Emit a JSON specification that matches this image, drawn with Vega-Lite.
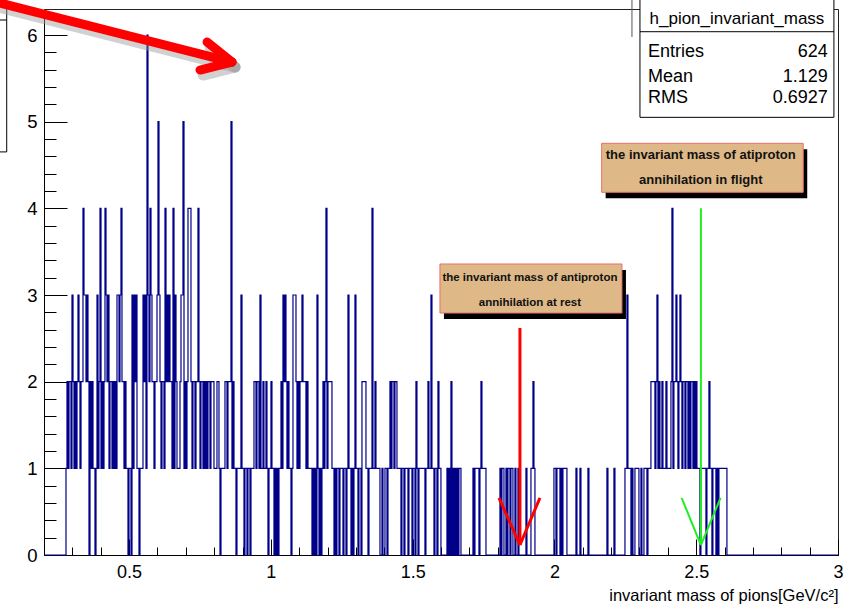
{
  "$schema": "https://vega.github.io/schema/vega-lite/v6.json",
  "width": 794,
  "height": 546,
  "autosize": "none",
  "padding": {"left": 44, "top": 9, "right": 17, "bottom": 51},
  "background": "white",
  "config": {
    "view": {"stroke": "#222222", "strokeWidth": 1},
    "font": "Liberation Sans, Arial, sans-serif"
  },
  "resolve": {"axis": {"x": "independent", "y": "independent"}},
  "layer": [
    {
      "data": {"values": [
        {"m":0.2,"n":0},
        {"m":0.2776,"n":1},{"m":0.2811,"n":2},{"m":0.2846,"n":1},{"m":0.2882,"n":2},{"m":0.2952,"n":1},{"m":0.2987,"n":3},{"m":0.3023,"n":2},{"m":0.3058,"n":1},{"m":0.3093,"n":2},{"m":0.3128,"n":1},{"m":0.3164,"n":2},{"m":0.3199,"n":3},{"m":0.3234,"n":2},{"m":0.3269,"n":1},{"m":0.3305,"n":2},{"m":0.3375,"n":4},{"m":0.3410,"n":3},{"m":0.3481,"n":2},{"m":0.3516,"n":3},{"m":0.3551,"n":2},{"m":0.3587,"n":0},{"m":0.3622,"n":2},{"m":0.3657,"n":1},{"m":0.3692,"n":2},{"m":0.3728,"n":1},{"m":0.3798,"n":0},{"m":0.3834,"n":1},{"m":0.3869,"n":3},{"m":0.3904,"n":1},{"m":0.3939,"n":2},{"m":0.3975,"n":4},{"m":0.4010,"n":1},{"m":0.4045,"n":2},{"m":0.4080,"n":1},{"m":0.4116,"n":2},{"m":0.4151,"n":4},{"m":0.4186,"n":3},{"m":0.4221,"n":2},{"m":0.4257,"n":3},{"m":0.4292,"n":1},{"m":0.4327,"n":2},{"m":0.4398,"n":1},{"m":0.4433,"n":2},{"m":0.4468,"n":1},{"m":0.4504,"n":2},{"m":0.4539,"n":1},{"m":0.4574,"n":3},{"m":0.4645,"n":2},{"m":0.4680,"n":3},{"m":0.4715,"n":4},{"m":0.4750,"n":2},{"m":0.4821,"n":1},{"m":0.4856,"n":2},{"m":0.4891,"n":1},{"m":0.4962,"n":0},{"m":0.4997,"n":1},{"m":0.5068,"n":0},{"m":0.5103,"n":3},{"m":0.5138,"n":1},{"m":0.5174,"n":3},{"m":0.5209,"n":2},{"m":0.5244,"n":3},{"m":0.5279,"n":1},{"m":0.5350,"n":0},{"m":0.5385,"n":1},{"m":0.5491,"n":3},{"m":0.5526,"n":2},{"m":0.5561,"n":3},{"m":0.5597,"n":1},{"m":0.5632,"n":6},{"m":0.5667,"n":3},{"m":0.5702,"n":2},{"m":0.5738,"n":4},{"m":0.5773,"n":3},{"m":0.5808,"n":2},{"m":0.5879,"n":1},{"m":0.5914,"n":2},{"m":0.5985,"n":3},{"m":0.6020,"n":5},{"m":0.6055,"n":3},{"m":0.6090,"n":2},{"m":0.6126,"n":1},{"m":0.6161,"n":2},{"m":0.6231,"n":1},{"m":0.6267,"n":4},{"m":0.6302,"n":2},{"m":0.6337,"n":3},{"m":0.6372,"n":2},{"m":0.6408,"n":3},{"m":0.6443,"n":2},
        {"m":0.6513,"n":1},{"m":0.6549,"n":4},{"m":0.6584,"n":1},{"m":0.6619,"n":3},{"m":0.6655,"n":2},{"m":0.6690,"n":1},{"m":0.6796,"n":2},{"m":0.6831,"n":3},{"m":0.6901,"n":5},{"m":0.6937,"n":1},{"m":0.6972,"n":2},{"m":0.7007,"n":1},{"m":0.7042,"n":2},{"m":0.7078,"n":4},{"m":0.7183,"n":2},{"m":0.7219,"n":1},{"m":0.7254,"n":2},{"m":0.7324,"n":1},{"m":0.7360,"n":2},{"m":0.7430,"n":4},{"m":0.7465,"n":2},{"m":0.7501,"n":1},{"m":0.7536,"n":2},{"m":0.7606,"n":1},{"m":0.7642,"n":2},{"m":0.7677,"n":1},{"m":0.7712,"n":2},{"m":0.7747,"n":1},{"m":0.7783,"n":2},{"m":0.7853,"n":1},{"m":0.7888,"n":2},{"m":0.7994,"n":1},{"m":0.8100,"n":2},{"m":0.8171,"n":1},{"m":0.8206,"n":0},{"m":0.8241,"n":1},{"m":0.8382,"n":2},{"m":0.8453,"n":1},{"m":0.8488,"n":2},{"m":0.8594,"n":5},{"m":0.8629,"n":1},{"m":0.8664,"n":2},{"m":0.8700,"n":1},{"m":0.8770,"n":0},{"m":0.8805,"n":1},{"m":0.8946,"n":3},{"m":0.8982,"n":1},{"m":0.9052,"n":0},{"m":0.9087,"n":1},{"m":0.9158,"n":0},{"m":0.9193,"n":1},{"m":0.9264,"n":0},{"m":0.9299,"n":1},{"m":0.9405,"n":2},{"m":0.9475,"n":1},{"m":0.9511,"n":2},{"m":0.9581,"n":1},{"m":0.9616,"n":3},{"m":0.9652,"n":1},{"m":0.9722,"n":2},{"m":0.9757,"n":1},{"m":0.9828,"n":2},{"m":0.9863,"n":1},{"m":0.9898,"n":0},{"m":0.9934,"n":1},{"m":1.0004,"n":2},{"m":1.0039,"n":1},{"m":1.0110,"n":0},{"m":1.0145,"n":1},{"m":1.0180,"n":0},{"m":1.0216,"n":1},{"m":1.0251,"n":0},{"m":1.0286,"n":1},{"m":1.0357,"n":2},{"m":1.0392,"n":1},{"m":1.0427,"n":3},{"m":1.0463,"n":2},{"m":1.0498,"n":3},
        {"m":1.0533,"n":2},{"m":1.0568,"n":1},{"m":1.0604,"n":2},{"m":1.0639,"n":1},{"m":1.0710,"n":0},{"m":1.0745,"n":1},{"m":1.0780,"n":3},{"m":1.0886,"n":2},{"m":1.0921,"n":1},{"m":1.0956,"n":2},{"m":1.0992,"n":1},{"m":1.1027,"n":2},{"m":1.1097,"n":3},{"m":1.1133,"n":2},{"m":1.1238,"n":1},{"m":1.1273,"n":2},{"m":1.1309,"n":1},{"m":1.1450,"n":0},{"m":1.1485,"n":1},{"m":1.1520,"n":0},{"m":1.1556,"n":1},{"m":1.1591,"n":0},{"m":1.1626,"n":3},{"m":1.1661,"n":1},{"m":1.1697,"n":0},{"m":1.1732,"n":1},{"m":1.1767,"n":0},{"m":1.1802,"n":1},{"m":1.1838,"n":2},{"m":1.1873,"n":1},{"m":1.1908,"n":2},{"m":1.1943,"n":4},{"m":1.1979,"n":1},{"m":1.2014,"n":2},{"m":1.2155,"n":1},{"m":1.2226,"n":0},{"m":1.2261,"n":1},{"m":1.2296,"n":0},{"m":1.2331,"n":1},{"m":1.2402,"n":0},{"m":1.2437,"n":1},{"m":1.2543,"n":0},{"m":1.2578,"n":1},{"m":1.2649,"n":0},{"m":1.2684,"n":1},{"m":1.2719,"n":3},{"m":1.2755,"n":1},{"m":1.2825,"n":0},{"m":1.2860,"n":1},{"m":1.2896,"n":0},{"m":1.2931,"n":1},{"m":1.2966,"n":3},{"m":1.3001,"n":1},{"m":1.3072,"n":0},{"m":1.3107,"n":1},{"m":1.3178,"n":0},{"m":1.3213,"n":2},{"m":1.3354,"n":1},{"m":1.3425,"n":0},{"m":1.3460,"n":1},{"m":1.3566,"n":4},{"m":1.3601,"n":1},{"m":1.3671,"n":2},{"m":1.3707,"n":1},{"m":1.3848,"n":0},{"m":1.3918,"n":1},{"m":1.3954,"n":0},{"m":1.4024,"n":1},{"m":1.4095,"n":0},{"m":1.4130,"n":1},{"m":1.4200,"n":2},{"m":1.4236,"n":1},{"m":1.4271,"n":2},{"m":1.4341,"n":1},{"m":1.4377,"n":2},{"m":1.4447,"n":1},
        {"m":1.4588,"n":0},{"m":1.4623,"n":1},{"m":1.4694,"n":0},{"m":1.4729,"n":1},{"m":1.4835,"n":0},{"m":1.4870,"n":1},{"m":1.4976,"n":0},{"m":1.5011,"n":1},{"m":1.5082,"n":0},{"m":1.5117,"n":2},{"m":1.5152,"n":1},{"m":1.5188,"n":0},{"m":1.5223,"n":1},{"m":1.5434,"n":0},{"m":1.5469,"n":1},{"m":1.5540,"n":2},{"m":1.5575,"n":1},{"m":1.5646,"n":3},{"m":1.5681,"n":1},{"m":1.5752,"n":0},{"m":1.5787,"n":1},{"m":1.5857,"n":0},{"m":1.5893,"n":2},{"m":1.5928,"n":1},{"m":1.5998,"n":0},{"m":1.6210,"n":1},{"m":1.6245,"n":0},{"m":1.6280,"n":1},{"m":1.6316,"n":0},{"m":1.6351,"n":2},{"m":1.6386,"n":0},{"m":1.6421,"n":1},{"m":1.6457,"n":0},{"m":1.6492,"n":1},{"m":1.6527,"n":0},{"m":1.6562,"n":1},{"m":1.6598,"n":0},{"m":1.6633,"n":1},{"m":1.6704,"n":0},{"m":1.7127,"n":1},{"m":1.7162,"n":0},{"m":1.7197,"n":1},{"m":1.7339,"n":0},{"m":1.7374,"n":1},{"m":1.7409,"n":2},{"m":1.7444,"n":1},{"m":1.7586,"n":0},{"m":1.8079,"n":1},{"m":1.8114,"n":0},{"m":1.8149,"n":1},{"m":1.8220,"n":0},{"m":1.8291,"n":1},{"m":1.8326,"n":0},{"m":1.8361,"n":1},{"m":1.8432,"n":0},{"m":1.8467,"n":1},{"m":1.8537,"n":0},{"m":1.8608,"n":1},
        {"m":1.8643,"n":0},{"m":1.8714,"n":1},{"m":1.8749,"n":0},{"m":1.8996,"n":1},{"m":1.9031,"n":0},{"m":1.9172,"n":1},{"m":1.9243,"n":2},{"m":1.9278,"n":1},{"m":1.9313,"n":0},{"m":1.9983,"n":1},{"m":2.0054,"n":0},{"m":2.0089,"n":1},{"m":2.0195,"n":0},{"m":2.0230,"n":1},{"m":2.0265,"n":0},{"m":2.0300,"n":1},{"m":2.0441,"n":0},{"m":2.0759,"n":1},{"m":2.0794,"n":0},{"m":2.0900,"n":1},{"m":2.0935,"n":0},{"m":2.1182,"n":1},{"m":2.1217,"n":0},{"m":2.1852,"n":1},{"m":2.1887,"n":0},{"m":2.2099,"n":1},{"m":2.2134,"n":0},{"m":2.2487,"n":1},{"m":2.2557,"n":3},{"m":2.2592,"n":1},
        {"m":2.2698,"n":0},{"m":2.2733,"n":1},{"m":2.2769,"n":0},{"m":2.2839,"n":1},{"m":2.2980,"n":0},{"m":2.3051,"n":1},{"m":2.3086,"n":0},{"m":2.3157,"n":1},{"m":2.3262,"n":0},{"m":2.3298,"n":1},{"m":2.3403,"n":2},{"m":2.3544,"n":1},{"m":2.3580,"n":2},{"m":2.3615,"n":3},{"m":2.3650,"n":1},{"m":2.3686,"n":2},{"m":2.3721,"n":1},{"m":2.3791,"n":2},{"m":2.3827,"n":1},{"m":2.3932,"n":2},{"m":2.3968,"n":1},{"m":2.4109,"n":2},{"m":2.4144,"n":4},{"m":2.4179,"n":1},{"m":2.4214,"n":2},{"m":2.4285,"n":3},{"m":2.4320,"n":2},{"m":2.4355,"n":1},{"m":2.4391,"n":2},{"m":2.4426,"n":3},{"m":2.4461,"n":2},{"m":2.4496,"n":1},{"m":2.4532,"n":2},{"m":2.4602,"n":1},{"m":2.4638,"n":2},{"m":2.4708,"n":1},{"m":2.4743,"n":2},{"m":2.4779,"n":1},{"m":2.4814,"n":2},{"m":2.4884,"n":1},{"m":2.4920,"n":2},{"m":2.4955,"n":1},{"m":2.4990,"n":2},{"m":2.5025,"n":1},{"m":2.5131,"n":0},{"m":2.5166,"n":1},{"m":2.5343,"n":0},{"m":2.5378,"n":1},{"m":2.5448,"n":2},{"m":2.5484,"n":1},{"m":2.5554,"n":0},{"m":2.5589,"n":1},{"m":2.5695,"n":0},{"m":2.5730,"n":1},{"m":2.5766,"n":0},{"m":2.5801,"n":1},{"m":2.6083,"n":0},{"m":3.0,"n":0}
      ]},
      "mark": {"type": "line", "interpolate": "step-after", "color": "#000088", "strokeWidth": 1.2},
      "encoding": {
        "x": {
          "field": "m", "type": "quantitative",
          "scale": {"domain": [0.2, 3.0], "nice": false, "zero": false},
          "axis": {
            "orient": "bottom",
            "title": "invariant mass of pions[GeV/c²]",
            "values": [0.2,0.3,0.4,0.5,0.6,0.7,0.8,0.9,1.0,1.1,1.2,1.3,1.4,1.5,1.6,1.7,1.8,1.9,2.0,2.1,2.2,2.3,2.4,2.5,2.6,2.7,2.8,2.9,3.0],
            "labelExpr": "abs(datum.value*2-round(datum.value*2))<0.001 ? format(datum.value,'~g') : ''",
            "tickSize": -16,
            "tickDash": {"condition": {"test": "abs(datum.value*2-round(datum.value*2))<0.001", "value": []}, "value": [8, 40]},
            "tickColor": "black", "domainColor": "black", "grid": false,
            "labelFontSize": 18, "labelColor": "black", "labelPadding": 24,
            "labelOverlap": false, "labelFlush": false, "labelBound": false,
            "titleFontSize": 16.5, "titleFontWeight": "normal", "titleColor": "black",
            "titleAnchor": "end", "titleAlign": "right", "titleBaseline": "alphabetic",
            "titleX": 794, "titleY": 45
          }
        },
        "y": {
          "field": "n", "type": "quantitative",
          "scale": {"domain": [0, 6.3], "nice": false, "zero": false},
          "axis": {
            "orient": "left",
            "title": null,
            "values": [0,0.2,0.4,0.6,0.8,1,1.2,1.4,1.6,1.8,2,2.2,2.4,2.6,2.8,3,3.2,3.4,3.6,3.8,4,4.2,4.4,4.6,4.8,5,5.2,5.4,5.6,5.8,6,6.2],
            "labelExpr": "abs(datum.value-round(datum.value))<0.001 ? format(datum.value,'d') : ''",
            "tickSize": -23,
            "tickDash": {"condition": {"test": "abs(datum.value-round(datum.value))<0.001", "value": []}, "value": [12, 40]},
            "tickColor": "black", "domainColor": "black", "grid": false,
            "labelFontSize": 18.5, "labelColor": "black", "labelPadding": 30,
            "labelOverlap": false, "labelFlush": false, "labelBound": false
          }
        }
      }
    },
    {
      "data": {"values": [
        {"x":-0.2,"x2":0.0685,"y":4.651,"y2":6.6}
      ]},
      "mark": {"type": "rect", "fill": "white", "stroke": "black", "strokeWidth": 1},
      "encoding": {
        "x": {"field": "x", "type": "quantitative", "scale": {"domain": [0.2, 3.0], "nice": false, "zero": false}, "axis": null},
        "x2": {"field": "x2"},
        "y": {"field": "y", "type": "quantitative", "scale": {"domain": [0, 6.3], "nice": false, "zero": false}, "axis": null},
        "y2": {"field": "y2"}
      }
    },
    {
      "data": {"values": [
        {"x":-0.2,"x2":0.0685,"y":6.173}
      ]},
      "mark": {"type": "rule", "color": "black", "strokeWidth": 1},
      "encoding": {
        "x": {"field": "x", "type": "quantitative", "scale": {"domain": [0.2, 3.0], "nice": false, "zero": false}, "axis": null},
        "x2": {"field": "x2"},
        "y": {"field": "y", "type": "quantitative", "scale": {"domain": [0, 6.3], "nice": false, "zero": false}, "axis": null}
      }
    },
    {
      "data": {"values": [
        {"x":0.0555,"y":6.311,"x2":0.8736,"y2":5.630},
        {"x":0.7856,"y":5.861,"x2":0.8736,"y2":5.630},
        {"x":0.7606,"y":5.538,"x2":0.8736,"y2":5.630}
      ]},
      "mark": {"type": "rule", "color": "#999999", "opacity": 0.45, "strokeWidth": 11, "strokeCap": "round"},
      "encoding": {
        "x": {"field": "x", "type": "quantitative", "scale": {"domain": [0.2, 3.0], "nice": false, "zero": false}, "axis": null},
        "x2": {"field": "x2"},
        "y": {"field": "y", "type": "quantitative", "scale": {"domain": [0, 6.3], "nice": false, "zero": false}, "axis": null},
        "y2": {"field": "y2"}
      }
    },
    {
      "data": {"values": [
        {"x":0.0449,"y":6.369,"x2":0.863,"y2":5.688},
        {"x":0.775,"y":5.919,"x2":0.863,"y2":5.688},
        {"x":0.750,"y":5.596,"x2":0.863,"y2":5.688}
      ]},
      "mark": {"type": "rule", "color": "#ff0000", "strokeWidth": 9, "strokeCap": "round"},
      "encoding": {
        "x": {"field": "x", "type": "quantitative", "scale": {"domain": [0.2, 3.0], "nice": false, "zero": false}, "axis": null},
        "x2": {"field": "x2"},
        "y": {"field": "y", "type": "quantitative", "scale": {"domain": [0, 6.3], "nice": false, "zero": false}, "axis": null},
        "y2": {"field": "y2"}
      }
    },
    {
      "data": {"values": [
        {"x":1.8784,"y":2.62,"x2":1.8784,"y2":0.115},
        {"x":1.8044,"y":0.66,"x2":1.8784,"y2":0.115},
        {"x":1.949,"y":0.66,"x2":1.8784,"y2":0.115}
      ]},
      "mark": {"type": "rule", "color": "#ff0000", "strokeWidth": 3},
      "encoding": {
        "x": {"field": "x", "type": "quantitative", "scale": {"domain": [0.2, 3.0], "nice": false, "zero": false}, "axis": null},
        "x2": {"field": "x2"},
        "y": {"field": "y", "type": "quantitative", "scale": {"domain": [0, 6.3], "nice": false, "zero": false}, "axis": null},
        "y2": {"field": "y2"}
      }
    },
    {
      "data": {"values": [
        {"x":2.5166,"y":4.0,"x2":2.5166,"y2":0.115},
        {"x":2.4485,"y":0.66,"x2":2.5166,"y2":0.115},
        {"x":2.586,"y":0.66,"x2":2.5166,"y2":0.115}
      ]},
      "mark": {"type": "rule", "color": "#22ee22", "strokeWidth": 2},
      "encoding": {
        "x": {"field": "x", "type": "quantitative", "scale": {"domain": [0.2, 3.0], "nice": false, "zero": false}, "axis": null},
        "x2": {"field": "x2"},
        "y": {"field": "y", "type": "quantitative", "scale": {"domain": [0, 6.3], "nice": false, "zero": false}, "axis": null},
        "y2": {"field": "y2"}
      }
    },
    {
      "data": {"values": [
        {"x":1.6104,"x2":2.2522,"y":2.723,"y2":3.289},
        {"x":2.1806,"x2":2.8915,"y":4.116,"y2":4.681}
      ]},
      "mark": {"type": "rect", "color": "black"},
      "encoding": {
        "x": {"field": "x", "type": "quantitative", "scale": {"domain": [0.2, 3.0], "nice": false, "zero": false}, "axis": null},
        "x2": {"field": "x2"},
        "y": {"field": "y", "type": "quantitative", "scale": {"domain": [0, 6.3], "nice": false, "zero": false}, "axis": null},
        "y2": {"field": "y2"}
      }
    },
    {
      "data": {"values": [
        {"x":1.5963,"x2":2.2381,"y":2.792,"y2":3.358},
        {"x":2.1665,"x2":2.8774,"y":4.185,"y2":4.750}
      ]},
      "mark": {"type": "rect", "fill": "#deb887", "stroke": "#e87068", "strokeWidth": 1},
      "encoding": {
        "x": {"field": "x", "type": "quantitative", "scale": {"domain": [0.2, 3.0], "nice": false, "zero": false}, "axis": null},
        "x2": {"field": "x2"},
        "y": {"field": "y", "type": "quantitative", "scale": {"domain": [0, 6.3], "nice": false, "zero": false}, "axis": null},
        "y2": {"field": "y2"}
      }
    },
    {
      "data": {"values": [
        {"x":1.9137,"y":3.162,"t":"the invariant mass of antiproton"},
        {"x":1.9137,"y":2.873,"t":"annihilation at rest"}
      ]},
      "mark": {"type": "text", "align": "center", "baseline": "alphabetic", "fontSize": 11.5, "fontWeight": "bold", "color": "#111111"},
      "encoding": {
        "x": {"field": "x", "type": "quantitative", "scale": {"domain": [0.2, 3.0], "nice": false, "zero": false}, "axis": null},
        "y": {"field": "y", "type": "quantitative", "scale": {"domain": [0, 6.3], "nice": false, "zero": false}, "axis": null},
        "text": {"field": "t"}
      }
    },
    {
      "data": {"values": [
        {"x":2.516,"y":4.569,"t":"the invariant mass of atiproton"},
        {"x":2.516,"y":4.281,"t":"annihilation in flight"}
      ]},
      "mark": {"type": "text", "align": "center", "baseline": "alphabetic", "fontSize": 13, "fontWeight": "bold", "color": "#111111"},
      "encoding": {
        "x": {"field": "x", "type": "quantitative", "scale": {"domain": [0.2, 3.0], "nice": false, "zero": false}, "axis": null},
        "y": {"field": "y", "type": "quantitative", "scale": {"domain": [0, 6.3], "nice": false, "zero": false}, "axis": null},
        "text": {"field": "t"}
      }
    },
    {
      "data": {"values": [
        {"x":2.2734,"y":5.977,"y2":6.45}
      ]},
      "mark": {"type": "rule", "color": "#555555", "strokeWidth": 1},
      "encoding": {
        "x": {"field": "x", "type": "quantitative", "scale": {"domain": [0.2, 3.0], "nice": false, "zero": false}, "axis": null},
        "y": {"field": "y", "type": "quantitative", "scale": {"domain": [0, 6.3], "nice": false, "zero": false}, "axis": null},
        "y2": {"field": "y2"}
      }
    },
    {
      "data": {"values": [
        {"x":2.3016,"x2":2.9856,"y":5.050,"y2":6.5}
      ]},
      "mark": {"type": "rect", "fill": "white", "stroke": "black", "strokeWidth": 1},
      "encoding": {
        "x": {"field": "x", "type": "quantitative", "scale": {"domain": [0.2, 3.0], "nice": false, "zero": false}, "axis": null},
        "x2": {"field": "x2"},
        "y": {"field": "y", "type": "quantitative", "scale": {"domain": [0, 6.3], "nice": false, "zero": false}, "axis": null},
        "y2": {"field": "y2"}
      }
    },
    {
      "data": {"values": [
        {"x":2.3016,"x2":2.9856,"y":6.038}
      ]},
      "mark": {"type": "rule", "color": "black", "strokeWidth": 1},
      "encoding": {
        "x": {"field": "x", "type": "quantitative", "scale": {"domain": [0.2, 3.0], "nice": false, "zero": false}, "axis": null},
        "x2": {"field": "x2"},
        "y": {"field": "y", "type": "quantitative", "scale": {"domain": [0, 6.3], "nice": false, "zero": false}, "axis": null}
      }
    },
    {
      "data": {"values": [
        {"x":2.33,"y":5.746,"t":"Entries"},
        {"x":2.33,"y":5.461,"t":"Mean"},
        {"x":2.33,"y":5.219,"t":"RMS"}
      ]},
      "mark": {"type": "text", "align": "left", "baseline": "alphabetic", "fontSize": 18, "color": "black"},
      "encoding": {
        "x": {"field": "x", "type": "quantitative", "scale": {"domain": [0.2, 3.0], "nice": false, "zero": false}, "axis": null},
        "y": {"field": "y", "type": "quantitative", "scale": {"domain": [0, 6.3], "nice": false, "zero": false}, "axis": null},
        "text": {"field": "t"}
      }
    },
    {
      "data": {"values": [
        {"x":2.964,"y":5.746,"t":"624"},
        {"x":2.964,"y":5.461,"t":"1.129"},
        {"x":2.964,"y":5.219,"t":"0.6927"}
      ]},
      "mark": {"type": "text", "align": "right", "baseline": "alphabetic", "fontSize": 18, "color": "black"},
      "encoding": {
        "x": {"field": "x", "type": "quantitative", "scale": {"domain": [0.2, 3.0], "nice": false, "zero": false}, "axis": null},
        "y": {"field": "y", "type": "quantitative", "scale": {"domain": [0, 6.3], "nice": false, "zero": false}, "axis": null},
        "text": {"field": "t"}
      }
    },
    {
      "data": {"values": [
        {"x":2.6436,"y":6.127,"t":"h_pion_invariant_mass"}
      ]},
      "mark": {"type": "text", "align": "center", "baseline": "alphabetic", "fontSize": 17, "color": "black"},
      "encoding": {
        "x": {"field": "x", "type": "quantitative", "scale": {"domain": [0.2, 3.0], "nice": false, "zero": false}, "axis": null},
        "y": {"field": "y", "type": "quantitative", "scale": {"domain": [0, 6.3], "nice": false, "zero": false}, "axis": null},
        "text": {"field": "t"}
      }
    }
  ]
}
